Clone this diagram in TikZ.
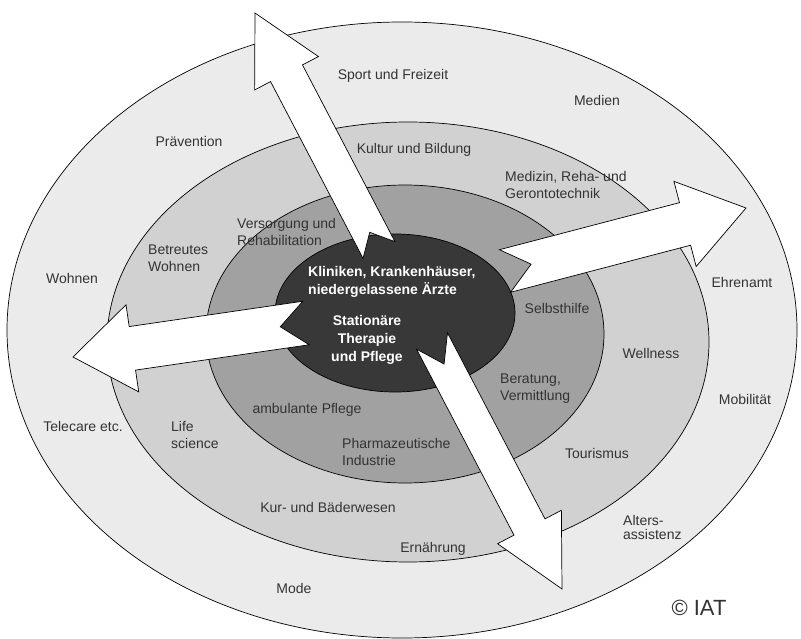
\documentclass[tikz,border=0pt]{standalone}
\usepackage{fontspec}
\setmainfont{Liberation Sans}
\usepackage{tikz}
\usetikzlibrary{calc}
\definecolor{ringouter}{gray}{0.92}
\definecolor{ringtwo}{gray}{0.82}
\definecolor{ringthree}{gray}{0.63}
\definecolor{ringcore}{gray}{0.22}
\definecolor{labelgray}{gray}{0.2}
\newcommand\blockarrow[6]{%
  \coordinate (h) at ($(#2)!#5!(#1)$);
  \draw[arrow_style] ($(#1)!#3!90:(#2)$) -- ($(h)!#3!90:(#2)$) -- ($(h)!#4!90:(#2)$) -- (#2)
    -- ($(h)!#4!-90:(#2)$) -- ($(h)!#3!-90:(#2)$) -- ($(#1)!#3!-90:(#2)$) -- ($(#1)!#6!(#2)$) -- cycle;}
\begin{document}
\begin{tikzpicture}[x=1pt, y=-1pt,
ring_style/.style={draw=black, line width=0.7pt},
arrow_style/.style={draw=black, fill=white, line width=0.7pt, line join=miter},
label_style/.style={inner sep=0pt, text=labelgray, font=\fontsize{14}{17}\selectfont},
core_style/.style={inner sep=0pt, text=white, font=\fontsize{14}{18}\selectfont\bfseries}]
\useasboundingbox[fill=white] (0,0) rectangle (801,639);

\coordinate (c1) at (402,330);
\coordinate (c2) at (408,342);
\coordinate (c3) at (405,334);
\coordinate (c4) at (395,313);
\fill[ringouter, ring_style] (c1) ellipse [x radius=395pt, y radius=308pt];
\fill[ringtwo, ring_style] (c2) ellipse [x radius=301pt, y radius=220pt];
\fill[ringthree, ring_style] (c3) ellipse [x radius=199pt, y radius=149pt];
\fill[ringcore, ring_style] (c4) ellipse [x radius=120pt, y radius=79pt];

\coordinate (upT) at (379,250);
\coordinate (upP) at (255,13);
\coordinate (rightT) at (505,271);
\coordinate (rightP) at (746,208);
\coordinate (leftT) at (306,323);
\coordinate (leftP) at (73,357);
\coordinate (downT) at (432,341);
\coordinate (downP) at (562,589);
\blockarrow{upT}{upP}{18pt}{36pt}{68pt}{20pt}
\blockarrow{rightT}{rightP}{22pt}{44pt}{63pt}{27pt}
\blockarrow{leftT}{leftP}{22pt}{44pt}{60pt}{26pt}
\blockarrow{downT}{downP}{17.5pt}{36pt}{70pt}{26pt}

\node[core_style, align=left, anchor=west] (kliniken) at (308,281.5) {Kliniken, Krankenhäuser,\\niedergelassene Ärzte};
\node[core_style, align=center] (stationaer) at (367,340) {Stationäre\\Therapie\\und Pflege};

\node[label_style] (sport) at (393,76) {Sport und Freizeit};
\node[label_style] (medien) at (597,100) {Medien};
\node[label_style] (praevention) at (189,141) {Prävention};
\node[label_style] (kultur) at (414,150) {Kultur und Bildung};
\node[label_style, align=left, anchor=west] (medizin) at (505,184.5) {Medizin, Reha- und\\Gerontotechnik};
\node[label_style, align=left, anchor=west] (versorgung) at (237,231.5) {Versorgung und\\Rehabilitation};
\node[label_style, align=left, anchor=west] (betreutes) at (148,258.5) {Betreutes\\Wohnen};
\node[label_style] (wohnen) at (72,278) {Wohnen};
\node[label_style] (ehrenamt) at (742,282) {Ehrenamt};
\node[label_style] (selbsthilfe) at (557,308) {Selbsthilfe};
\node[label_style] (wellness) at (651,353) {Wellness};
\node[label_style, align=left, anchor=west] (beratung) at (500,389) {Beratung,\\Vermittlung};
\node[label_style] (mobilitaet) at (745,399) {Mobilität};
\node[label_style] (ambulant) at (307,410) {ambulante Pflege};
\node[label_style] (telecare) at (83,426) {Telecare etc.};
\node[label_style, align=left, anchor=west] (life) at (171,434.5) {Life\\science};
\node[label_style, align=left, anchor=west] (pharma) at (342,451.5) {Pharmazeutische\\Industrie};
\node[label_style] (tourismus) at (597,453) {Tourismus};
\node[label_style] (kur) at (328,507) {Kur- und Bäderwesen};
\node[label_style, align=left, anchor=west, font=\fontsize{14}{14}\selectfont] (alters) at (623,527) {Alters-\\assistenz};
\node[label_style] (ernaehrung) at (433,549) {Ernährung};
\node[label_style] (mode) at (294,588) {Mode};
\node[label_style, font=\fontsize{22}{24}\selectfont] (iat) at (699,608) {© IAT};
\end{tikzpicture}
\end{document}
